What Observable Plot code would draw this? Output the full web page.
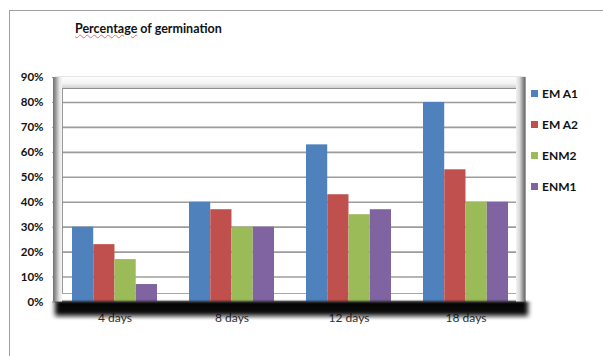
<!DOCTYPE html>
<html>
<head>
<meta charset="utf-8">
<script src="https://cdn.jsdelivr.net/npm/d3@7"></script>
<script src="https://cdn.jsdelivr.net/npm/@observablehq/plot@0.6"></script>
<style>
  body { margin: 0; background: #fff; }
  #wrap { position: relative; width: 603px; height: 356px; overflow: hidden; font-family: Lato, "Open Sans", sans-serif; }
  #border { position: absolute; left: 9px; top: 10px; width: 620px; height: 400px; border-top: 1.5px solid #a0a0a0; border-left: 1.5px solid #a0a0a0; }
  #title { position: absolute; left: 75px; top: 21px; font-weight: bold; font-size: 12.5px; color: #111; white-space: nowrap; }
  #title .sp { text-decoration: underline wavy #e07070; text-decoration-thickness: 1px; text-underline-offset: 1px; }
  #chart { position: absolute; left: 0; top: 0; }
  .item { position: absolute; left: 531px; display: flex; align-items: center; height: 14px; font-weight: bold; font-size: 12px; color: #111; white-space: nowrap; }
  .sw { width: 7px; height: 7px; margin-right: 4px; }
</style>
</head>
<body>
<div id="wrap">
  <div id="border"></div>
  <div id="title"><span class="sp">Percentage</span> of germination</div>
  <div id="chart"></div>
  <div id="legend"></div>
</div>
<script>
// Germination percentage by soaking period
const days = ["4 days", "8 days", "12 days", "18 days"];
const series = ["EM A1", "EM A2", "ENM2", "ENM1"];
const emA1 = [30, 40, 63, 80];
const emA2 = [23, 37, 43, 53];
const enm2 = [17, 30, 35, 40];
const enm1 = [7, 30, 37, 40];
const colors = ["#4F81BD", "#C0504D", "#9BBB59", "#8064A2"];
const yTicks = [0, 10, 20, 30, 40, 50, 60, 70, 80, 90];

const values = [emA1, emA2, enm2, enm1];

const W = 603, H = 356;
const mLeft = 55, mRight = 78, mTop = 77, mBottom = 54.5;
const padIn = 0.277, padOut = 0.136;
const step = (W - mLeft - mRight) / (days.length - padIn + 2 * padOut);
const barW = step * (1 - padIn) / series.length;

const barMarks = series.map((s, i) =>
  Plot.barY(
    days.map((d, j) => ({day: d, value: values[i][j], series: s})),
    {x: "day", y: "value", fill: colors[i],
     insetLeft: i * barW, insetRight: (series.length - 1 - i) * barW}
  )
);

const chart = Plot.plot({
  width: W, height: H,
  marginLeft: mLeft, marginRight: mRight, marginTop: mTop, marginBottom: mBottom,
  style: {fontFamily: "Lato, 'Open Sans', sans-serif", background: "transparent"},
  x: {domain: days, paddingInner: padIn, paddingOuter: padOut, label: null},
  y: {domain: [0, 90], label: null},
  marks: [
    Plot.ruleY(yTicks, {stroke: "#9c9c9c", strokeWidth: 1.6, ariaLabel: "grid"}),
    ...barMarks,
    Plot.axisY(yTicks, {tickFormat: d => d + "%", tickSize: 3, tickPadding: 9, stroke: "#9c9c9c",
      fontWeight: "bold", fontSize: 11.5, fill: "#111", label: null}),
    Plot.axisX({tickSize: 0, tickPadding: 11, fontSize: 12, fill: "#333", label: null})
  ]
});
document.getElementById("chart").appendChild(chart);

// Box-style wall, floor and shadow around the plot area
const svg = d3.select(chart);
const sx = chart.scale("x"), sy = chart.scale("y");
const L = sx.range[0], R = sx.range[1];
const T = sy.apply(90), B = sy.apply(0);

const defs = svg.insert("defs", ":first-child");
function gradient(id, vertical, stops) {
  const g = defs.append("linearGradient").attr("id", id)
    .attr("x1", 0).attr("y1", 0).attr("x2", vertical ? 0 : 1).attr("y2", vertical ? 1 : 0);
  stops.forEach(([o, c, a]) => g.append("stop").attr("offset", o).attr("stop-color", c).attr("stop-opacity", a ?? 1));
}
gradient("wallL", false, [[0, "#6f6f6f"], [0.3, "#9a9a9a"], [0.7, "#e2e2e2"], [1, "#f6f6f6"]]);
gradient("wallR", false, [[0, "#f4f4f4"], [0.4, "#d8d8d8"], [0.8, "#8c8c8c"], [1, "#6a6a6a"]]);
gradient("wallT", true, [[0, "#ffffff"], [0.6, "#f2f2f2"], [1, "#d0d0d0"]]);
gradient("shade", true, [[0, "#000", 1], [0.6, "#000", 0.95], [0.8, "#000", 0.5], [1, "#000", 0]]);
const blur = defs.append("filter").attr("id", "soft").attr("x", "-10%").attr("y", "-50%").attr("width", "120%").attr("height", "200%");
blur.append("feGaussianBlur").attr("stdDeviation", "2.8 0.8");

const back = svg.insert("g", "g[aria-label='grid']");
// drop shadow under the floor
back.append("rect").attr("x", L).attr("y", B).attr("width", R - L + 3).attr("height", 18)
  .attr("fill", "url(#shade)").attr("filter", "url(#soft)");
// top band
back.append("rect").attr("x", L).attr("y", T).attr("width", R - L).attr("height", 11).attr("fill", "url(#wallT)");
// side walls
back.append("rect").attr("x", L - 2).attr("y", T).attr("width", 9).attr("height", B - T).attr("fill", "url(#wallL)");
back.append("rect").attr("x", R - 9).attr("y", T).attr("width", 9).attr("height", B - T).attr("fill", "url(#wallR)");

const front = svg.insert("g", "g[aria-label='bar']").attr("fill", "none");
// inner frame of the back wall
front.append("path")
  .attr("d", `M${L + 7},${B - 8} V${T + 11} H${R - 8} V${B - 8}`)
  .attr("stroke", "#8f8f8f").attr("stroke-width", 1.8);
front.append("path")
  .attr("d", `M${L},${T} L${L + 7},${T + 11} M${R},${T} L${R - 8},${T + 11} M${L},${B} L${L + 7},${B - 8} M${R},${B} L${R - 8},${B - 8} M${L + 7},${B - 8} H${R - 8}`)
  .attr("stroke", "#a8a8a8").attr("stroke-width", 1);
// outer edges and floor line
front.append("path")
  .attr("d", `M${L},${T} V${B} H${R} V${T}`)
  .attr("stroke", "#888").attr("stroke-width", 1.6);

// legend
const legend = d3.select("#legend");
series.forEach((s, i) => {
  const it = legend.append("div").attr("class", "item").style("top", (86 + i * 31) + "px");
  it.append("div").attr("class", "sw").style("background", colors[i]);
  it.append("span").text(s);
});
</script>
</body>
</html>
